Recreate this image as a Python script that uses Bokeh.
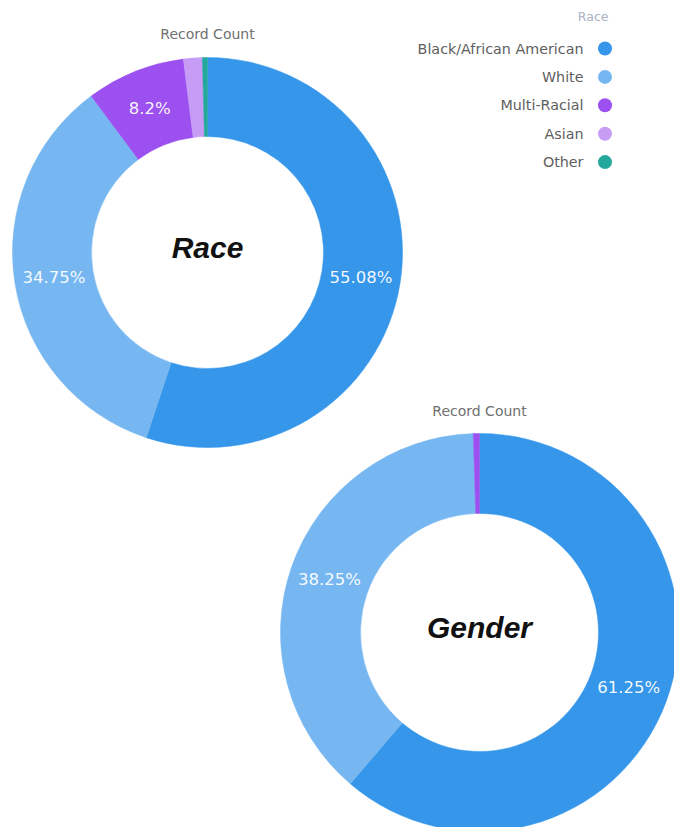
import numpy as np
from bokeh.plotting import figure
from bokeh.models import Range1d, ColumnDataSource
from bokeh.core.properties import value
from bokeh.embed import file_html
from bokeh.resources import INLINE

# ---- data ----
race_categories = ["Black/African American", "White", "Multi-Racial", "Asian", "Other"]
race_values = [55.08, 34.75, 8.2, 1.55, 0.42]
race_labels = ["55.08%", "34.75%", "8.2%", "", ""]

gender_categories = ["Male", "Female", "Other"]
gender_values = [61.25, 38.25, 0.5]
gender_labels = ["61.25%", "38.25%", ""]

palette = ["#3596ea", "#77b7f1", "#9c50f0", "#c69cf5", "#25a89c"]

W, H = 674, 827

p = figure(width=W, height=H, output_backend="svg", toolbar_location=None,
           x_range=Range1d(0, W), y_range=Range1d(0, H), min_border=0)
p.axis.visible = False
p.grid.visible = False
p.outline_line_color = None
p.background_fill_color = "white"
p.border_fill_color = "white"


def sy(y):
    return H - y


def donut(cats, vals, labels, cx, cy, r_in, r_out, center_text, title_y):
    vals = np.array(vals, dtype=float)
    frac = vals / vals.sum()
    cum = np.concatenate([[0], np.cumsum(frac)])
    t0 = cum[:-1] * 2 * np.pi
    t1 = cum[1:] * 2 * np.pi
    src = ColumnDataSource(dict(
        cat=cats,
        start=np.pi / 2 - t1,
        end=np.pi / 2 - t0,
        color=palette[:len(cats)],
    ))
    p.annular_wedge(x=cx, y=sy(cy), inner_radius=r_in, outer_radius=r_out,
                    start_angle="start", end_angle="end", direction="anticlock",
                    fill_color="color", line_color="color", line_width=0.5,
                    source=src)
    mid = (t0 + t1) / 2
    rm = (r_in + r_out) / 2
    lsrc = ColumnDataSource(dict(
        x=cx + rm * np.sin(mid),
        y=sy(cy) + rm * np.cos(mid),
        t=labels,
    ))
    p.text(x="x", y="y", text="t", source=lsrc, text_color="white",
           text_align="center", text_baseline="middle",
           text_font=value("DejaVu Sans"), text_font_size="16.5px", text_alpha=0.95)
    p.text(x=[cx], y=[sy(cy) + 5], text=[center_text], text_color="#111111",
           text_align="center", text_baseline="alphabetic",
           text_font=value("Liberation Sans"), text_font_style="bold italic",
           text_font_size="30px")
    p.text(x=[cx], y=[sy(title_y)], text=["Record Count"], text_color="#707070",
           text_align="center", text_baseline="middle",
           text_font=value("DejaVu Sans"), text_font_size="14px")


donut(race_categories, race_values, race_labels, 207, 252, 116, 195, "Race", 33)
donut(gender_categories, gender_values, gender_labels, 479, 632, 119, 199, "Gender", 410)

# ---- legend (Race) ----
leg_y = [48 + 28.4 * i for i in range(len(race_categories))]
p.text(x=[608], y=[sy(16)], text=["Race"], text_color="#a9b3c2",
       text_align="right", text_baseline="middle",
       text_font=value("DejaVu Sans"), text_font_size="12.5px")
p.text(x=[583] * len(race_categories), y=[sy(v) for v in leg_y], text=race_categories,
       text_color="#606060", text_align="right", text_baseline="middle",
       text_font=value("DejaVu Sans"), text_font_size="14.3px")
p.scatter(x=[604.5] * len(race_categories), y=[sy(v) for v in leg_y], size=14,
          marker="circle", fill_color=palette[:len(race_categories)], line_color=None)

open("out.html", "w").write(file_html(p, INLINE))
